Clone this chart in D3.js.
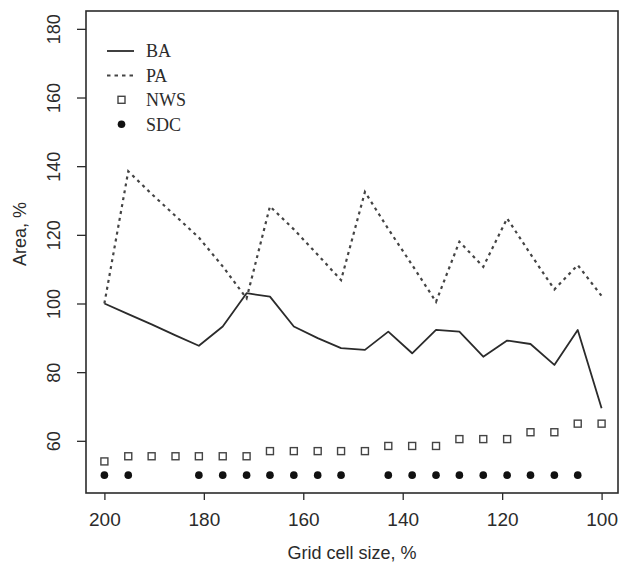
<!DOCTYPE html>
<html>
<head>
<meta charset="utf-8">
<script src="https://cdn.jsdelivr.net/npm/d3@7/dist/d3.min.js"></script>
<style>
  html, body { margin: 0; padding: 0; background: #fff; }
  svg { display: block; }
</style>
</head>
<body>
<svg id="chart" width="620" height="564"></svg>
<script>
// ---- data ----
const gridSize = [200, 195.2, 190.5, 185.7, 181.0, 176.2, 171.4, 166.7, 161.9, 157.1, 152.4,
                  147.6, 142.9, 138.1, 133.3, 128.6, 123.8, 119.0, 114.3, 109.5, 104.8, 100];
const BA  = [100, 96.9, 93.9, 90.7, 87.7, 93.3, 103.0, 102.0, 93.3, 89.9, 87.0,
             86.5, 91.8, 85.5, 92.3, 91.8, 84.5, 89.2, 88.2, 82.1, 92.3, 69.5];
const PA  = [100, 138.5, 131.9, 125.5, 119.2, 110.8, 101.5, 128.3, 121.6, 114.2, 106.8,
             132.5, 121.7, 111.2, 100.5, 118.0, 110.7, 124.8, 114.4, 104.1, 111.2, 102.2];
const NWS = [54, 55.5, 55.5, 55.5, 55.5, 55.5, 55.5, 57, 57, 57, 57,
             57, 58.5, 58.5, 58.5, 60.5, 60.5, 60.5, 62.5, 62.5, 65, 65];
const SDC = [50, 50, null, null, 50, 50, 50, 50, 50, 50, 50,
             null, 50, 50, 50, 50, 50, 50, 50, 50, 50, null];
const xTicks = [200, 180, 160, 140, 120, 100];
const yTicks = [60, 80, 100, 120, 140, 160, 180];
const legendItems = [
  { label: "BA",  kind: "solid" },
  { label: "PA",  kind: "dash" },
  { label: "NWS", kind: "square" },
  { label: "SDC", kind: "dot" }
];
const xTitle = "Grid cell size, %";
const yTitle = "Area, %";

// ---- layout ----
const svg = d3.select("#chart");
const L = 86, R = 618, T = 11, B = 493;
const ink = "#2b2b2b";
const sans = "'Liberation Sans', Arial, sans-serif";

const x = d3.scaleLinear().domain([203.7, 96.7]).range([L, R]);
const y = d3.scaleLinear().domain([44.8, 185.2]).range([B, T]);

// frame
svg.append("rect")
  .attr("x", L).attr("y", T).attr("width", R - L).attr("height", B - T)
  .attr("fill", "none").attr("stroke", ink).attr("stroke-width", 1.6);

// x axis
const xAxis = svg.append("g").attr("transform", `translate(0,${B})`)
  .call(d3.axisBottom(x).tickValues(xTicks).tickSize(7).tickSizeOuter(0).tickPadding(13));
xAxis.select(".domain").remove();
xAxis.selectAll(".tick line").attr("stroke", ink).attr("stroke-width", 1.3);
xAxis.selectAll(".tick text")
  .attr("fill", ink).attr("font-family", sans)
  .attr("font-size", 19);

// y axis
const yAxis = svg.append("g").attr("transform", `translate(${L},0)`)
  .call(d3.axisLeft(y).tickValues(yTicks).tickSize(9).tickSizeOuter(0));
yAxis.select(".domain").remove();
yAxis.selectAll(".tick line").attr("stroke", ink).attr("stroke-width", 1.3);
yAxis.selectAll(".tick text")
  .attr("fill", ink).attr("font-family", sans)
  .attr("font-size", 18)
  .attr("text-anchor", "middle")
  .attr("x", 0).attr("dy", 0)
  .attr("transform", "translate(-31,0) rotate(-90)")
  .attr("dominant-baseline", "middle");

// axis titles
svg.append("text")
  .attr("x", (L + R) / 2).attr("y", 559)
  .attr("text-anchor", "middle")
  .attr("font-family", sans)
  .attr("font-size", 18).attr("fill", ink)
  .text(xTitle);
svg.append("text")
  .attr("transform", "translate(26,234) rotate(-90)")
  .attr("text-anchor", "middle")
  .attr("font-family", sans)
  .attr("font-size", 18).attr("fill", ink)
  .text(yTitle);

// lines
const line = (vals) => d3.line()
  .defined((d, i) => vals[i] != null)
  .x((d, i) => x(gridSize[i]))
  .y((d, i) => y(vals[i]))(vals);

svg.append("path").attr("d", line(BA))
  .attr("fill", "none").attr("stroke", ink).attr("stroke-width", 1.8)
  .attr("stroke-linejoin", "round");
svg.append("path").attr("d", line(PA))
  .attr("fill", "none").attr("stroke", "#444").attr("stroke-width", 2.2)
  .attr("stroke-dasharray", "3,4");

// NWS squares
svg.append("g").selectAll("rect")
  .data(NWS.map((v, i) => ({ x: gridSize[i], v })).filter(d => d.v != null))
  .join("rect")
  .attr("x", d => x(d.x) - 3.5).attr("y", d => y(d.v) - 3.5)
  .attr("width", 7).attr("height", 7)
  .attr("fill", "none").attr("stroke", "#444").attr("stroke-width", 1.4);

// SDC dots
svg.append("g").selectAll("circle")
  .data(SDC.map((v, i) => ({ x: gridSize[i], v })).filter(d => d.v != null))
  .join("circle")
  .attr("cx", d => x(d.x)).attr("cy", d => y(d.v))
  .attr("r", 3.8).attr("fill", "#111");

// legend
const lg = svg.append("g").attr("transform", "translate(107,51)");
legendItems.forEach((it, i) => {
  const g = lg.append("g").attr("transform", `translate(0,${i * 24.4})`);
  if (it.kind === "solid") {
    g.append("line").attr("x1", 0).attr("x2", 27).attr("y1", 0).attr("y2", 0)
      .attr("stroke", ink).attr("stroke-width", 1.8);
  } else if (it.kind === "dash") {
    g.append("line").attr("x1", 0).attr("x2", 27).attr("y1", 0).attr("y2", 0)
      .attr("stroke", "#444").attr("stroke-width", 2).attr("stroke-dasharray", "3.5,4");
  } else if (it.kind === "square") {
    g.append("rect").attr("x", 14.5 - 3.5).attr("y", -3.5).attr("width", 7).attr("height", 7)
      .attr("fill", "none").attr("stroke", "#444").attr("stroke-width", 1.4);
  } else {
    g.append("circle").attr("cx", 14.5).attr("cy", 0).attr("r", 3.8).attr("fill", "#111");
  }
  g.append("text").attr("x", 39).attr("y", 0).attr("dy", "0.35em")
    .attr("font-family", "'Liberation Serif', 'Times New Roman', serif")
    .attr("font-size", 18).attr("fill", ink)
    .text(it.label);
});
</script>
</body>
</html>
